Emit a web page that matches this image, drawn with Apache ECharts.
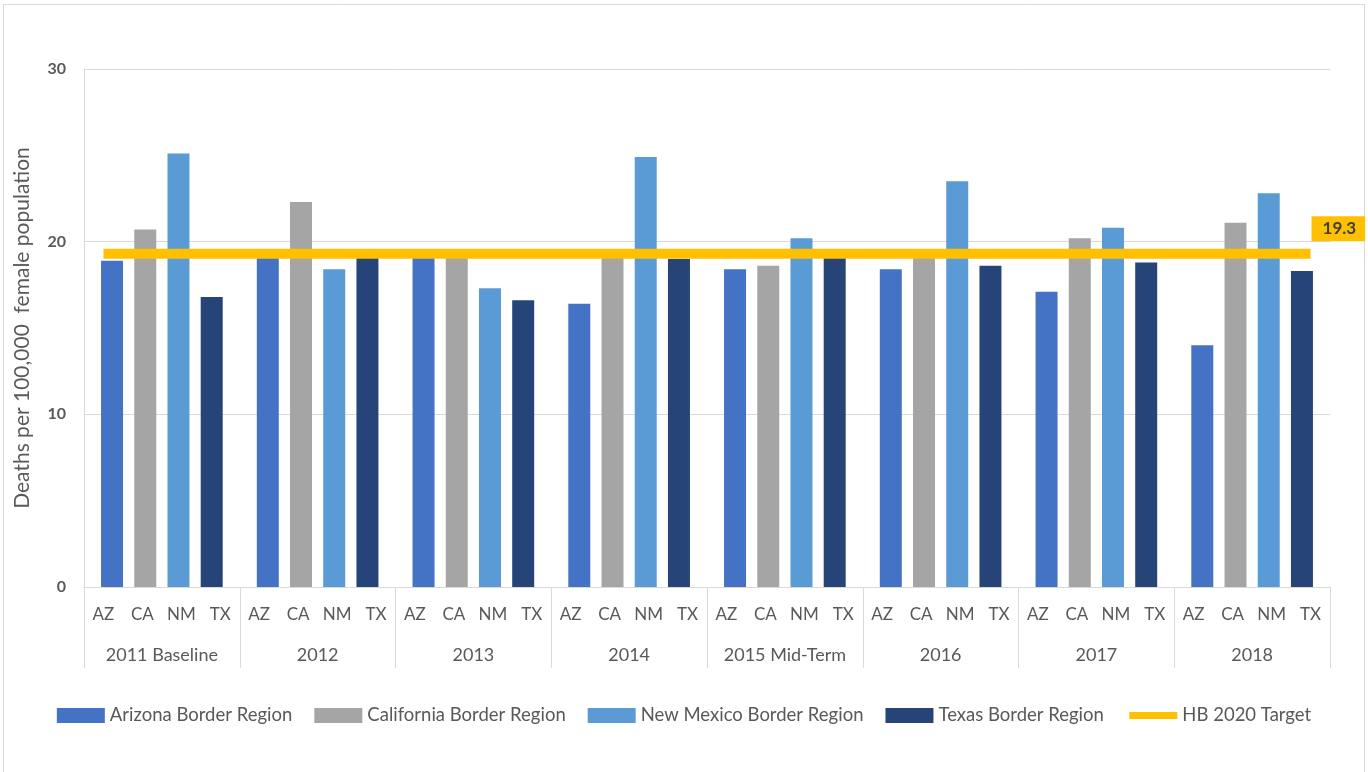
<!DOCTYPE html>
<html>
<head>
<meta charset="utf-8">
<script src="https://cdn.jsdelivr.net/npm/echarts@6/dist/echarts.min.js"></script>
<style>html,body{margin:0;padding:0;background:#fff}#chart{width:1368px;height:772px}</style>
</head>
<body>
<div id="chart"></div>
<script>
const years = ['2011 Baseline', '2012', '2013', '2014', '2015 Mid-Term', '2016', '2017', '2018'];
const regions = ['AZ', 'CA', 'NM', 'TX'];
const seriesNames = ['Arizona Border Region', 'California Border Region', 'New Mexico Border Region', 'Texas Border Region'];
const azValues = [18.9, 19.1, 19.1, 16.4, 18.4, 18.4, 17.1, 14.0];
const caValues = [20.7, 22.3, 19.2, 19.2, 18.6, 19.2, 20.2, 21.1];
const nmValues = [25.1, 18.4, 17.3, 24.9, 20.2, 23.5, 20.8, 22.8];
const txValues = [16.8, 19.1, 16.6, 19.0, 19.1, 18.6, 18.8, 18.3];
const targetName = 'HB 2020 Target';
const targetValue = 19.3;
const yAxisName = 'Deaths per 100,000  female population';

const colors = ['#4472C4', '#A5A5A5', '#5B9BD5', '#264478'];
const targetColor = '#FFC000';
const textColor = '#595959';
const font = 'Lato';

const categories = [];
years.forEach(() => regions.forEach(r => categories.push(r)));
const valueSets = [azValues, caValues, nmValues, txValues];

const barSeries = valueSets.map((vals, i) => ({
  name: seriesNames[i],
  type: 'bar',
  xAxisIndex: 0,
  barWidth: 22,
  barGap: '-126%',
  itemStyle: { color: colors[i] },
  data: categories.map((_, k) => (k % regions.length === i ? vals[Math.floor(k / regions.length)] : null))
}));

const chart = echarts.init(document.getElementById('chart'));
chart.setOption({
  animation: false,
  backgroundColor: '#fff',
  textStyle: { fontFamily: font, color: textColor },
  graphic: [{
    type: 'rect', silent: true, z: -10,
    shape: { x: 3.5, y: 4.5, width: 1361, height: 800 },
    style: { fill: 'none', stroke: '#d9d9d9', lineWidth: 1 }
  }],
  grid: { left: 84, right: 38, top: 69, bottom: 185, containLabel: false },
  legend: {
    bottom: 42,
    left: 'center',
    itemWidth: 48,
    itemHeight: 15,
    itemGap: 22,
    textStyle: { fontFamily: font, fontSize: 18.5, color: textColor },
    data: seriesNames.map(n => ({ name: n, icon: 'rect' })).concat([{
      name: targetName,
      lineStyle: { width: 7 },
      itemStyle: { opacity: 0 }
    }])
  },
  xAxis: [{
    type: 'category',
    data: categories,
    position: 'bottom',
    axisLine: { show: true, lineStyle: { color: '#d9d9d9', width: 1 } },
    axisTick: { show: false },
    axisLabel: { interval: 0, margin: 19, fontSize: 17, color: textColor, fontFamily: font }
  }, {
    type: 'category',
    data: years,
    position: 'bottom',
    axisLine: { show: false },
    axisTick: { show: true, interval: 0, length: 81, lineStyle: { color: '#d9d9d9', width: 1 } },
    axisLabel: { interval: 0, margin: 59, fontSize: 18, color: textColor, fontFamily: font },
    splitLine: { show: false }
  }],
  yAxis: {
    type: 'value',
    min: 0, max: 30, interval: 10,
    name: yAxisName,
    nameLocation: 'middle',
    nameGap: 51,
    nameTextStyle: { fontSize: 21, color: textColor, fontFamily: font },
    axisLine: { show: true, lineStyle: { color: '#d9d9d9' } },
    axisTick: { show: false },
    axisLabel: { margin: 18, fontSize: 16, fontWeight: 'bold', color: textColor, fontFamily: font },
    splitLine: { lineStyle: { color: '#d9d9d9', width: 1 } }
  },
  series: barSeries.concat([{
    name: targetName,
    type: 'line',
    xAxisIndex: 0,
    symbol: 'none',
    z: 5,
    lineStyle: { color: targetColor, width: 10, cap: 'butt' },
    itemStyle: { color: targetColor },
    data: categories.map(() => targetValue),
    endLabel: {
      show: true,
      formatter: () => String(targetValue),
      backgroundColor: targetColor,
      color: '#404040',
      fontWeight: 'bold',
      fontSize: 17,
      fontFamily: font,
      padding: [4, 9, 4, 11],
      distance: 0,
      offset: [1, -25],
      align: 'left',
      verticalAlign: 'middle'
    }
  }])
});
</script>
</body>
</html>
